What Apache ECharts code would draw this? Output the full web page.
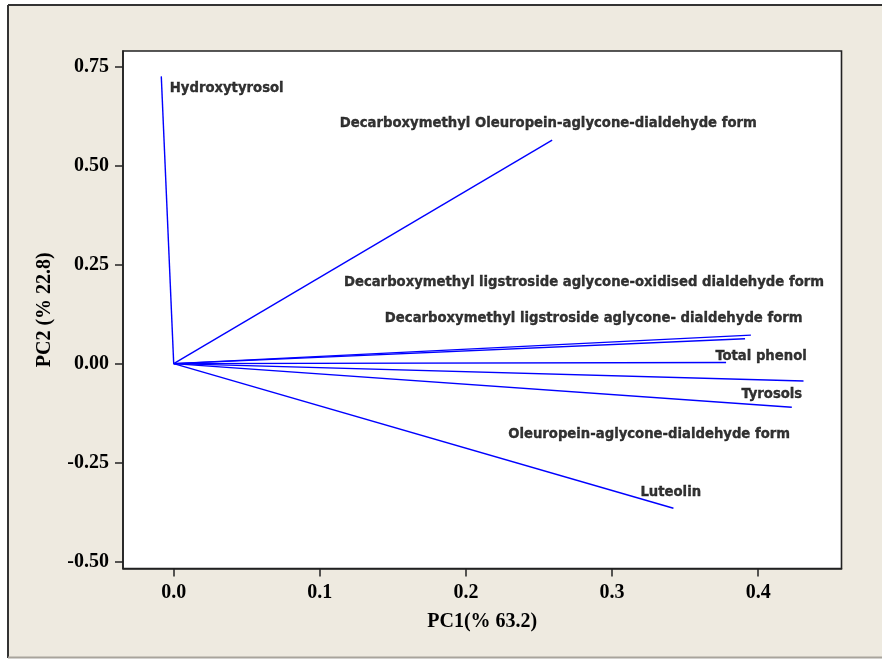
<!DOCTYPE html>
<html>
<head>
<meta charset="utf-8">
<script src="https://cdn.jsdelivr.net/npm/echarts@6/dist/echarts.min.js"></script>
<style>
html,body{margin:0;padding:0;background:#fff;}
#chart{width:882px;height:659px;}
</style>
</head>
<body>
<div id="chart"></div>
<script>
// Loading vectors (variables)
const variables = [
  'Hydroxytyrosol',
  'Decarboxymethyl Oleuropein-aglycone-dialdehyde form',
  'Decarboxymethyl ligstroside aglycone-oxidised dialdehyde form',
  'Decarboxymethyl ligstroside aglycone- dialdehyde form',
  'Total phenol',
  'Tyrosols',
  'Oleuropein-aglycone-dialdehyde form',
  'Luteolin'
];
const pc1 = [-0.0085, 0.259, 0.395, 0.391, 0.378, 0.431, 0.423, 0.342];
const pc2 = [0.725, 0.564, 0.072, 0.063, 0.003, -0.044, -0.110, -0.365];

// Where each variable's text label sits (data coordinates, left-middle anchor)
const labelPC1 = [-0.0027, 0.1137, 0.1165, 0.1445, 0.3707, 0.3885, 0.2289, 0.3194];
const labelPC2 = [0.695, 0.6076, 0.206, 0.1136, 0.0184, -0.0783, -0.1768, -0.3242];

const xTicks = [0.0, 0.1, 0.2, 0.3, 0.4];
const yTicks = [-0.50, -0.25, 0.00, 0.25, 0.50, 0.75];
const xTitle = 'PC1(% 63.2)';
const yTitle = 'PC2 (% 22.8)';

const chart = echarts.init(document.getElementById('chart'));

const serif = '"Liberation Serif", "Times New Roman", serif';
const sans = '"DejaVu Sans Condensed", "DejaVu Sans", sans-serif';

const vectorData = variables.map((n, i) => ({ name: n, coords: [[0, 0], [pc1[i], pc2[i]]] }));
const labelData = variables.map((n, i) => ({ name: n, value: [labelPC1[i], labelPC2[i]] }));

chart.setOption({
  backgroundColor: '#ffffff',
  animation: false,
  graphic: [
    { type: 'rect', z: -10, silent: true, shape: { x: 8, y: 5, width: 880, height: 652 },
      style: { fill: '#EEEAE0' } },
    { type: 'line', z: -5, silent: true, shape: { x1: 8, y1: 5, x2: 882, y2: 5 },
      style: { stroke: '#333', lineWidth: 2 } },
    { type: 'line', z: -5, silent: true, shape: { x1: 8, y1: 5, x2: 8, y2: 658 },
      style: { stroke: '#333', lineWidth: 2 } },
    { type: 'line', z: -5, silent: true, shape: { x1: 8, y1: 657.5, x2: 882, y2: 657.5 },
      style: { stroke: '#a8a49c', lineWidth: 2 } }
  ],
  grid: {
    left: 123, top: 51, right: 40.5, bottom: 90.5,
    show: true, backgroundColor: '#ffffff', borderColor: '#222', borderWidth: 1.6
  },
  xAxis: {
    type: 'value', min: -0.0347, max: 0.457,
    name: xTitle, nameLocation: 'middle', nameGap: 43,
    nameTextStyle: { fontFamily: serif, fontWeight: 'bold', fontSize: 20, color: '#000' },
    splitLine: { show: false },
    axisLine: { show: true, onZero: false, lineStyle: { color: '#222', width: 1.6 } },
    axisTick: { show: true, inside: false, length: 8, customValues: xTicks, lineStyle: { color: '#222', width: 1.5 } },
    axisLabel: { customValues: xTicks, margin: 14, fontFamily: serif, fontWeight: 'bold', fontSize: 20, color: '#000',
      formatter: v => v.toFixed(1) }
  },
  yAxis: {
    type: 'value', min: -0.517, max: 0.789,
    name: yTitle, nameLocation: 'middle', nameGap: 68, nameRotate: 90,
    nameTextStyle: { fontFamily: serif, fontWeight: 'bold', fontSize: 20, color: '#000' },
    splitLine: { show: false },
    axisLine: { show: true, onZero: false, lineStyle: { color: '#222', width: 1.6 } },
    axisTick: { show: true, inside: false, length: 8, customValues: yTicks, lineStyle: { color: '#222', width: 1.5 } },
    axisLabel: { customValues: yTicks, margin: 14, fontFamily: serif, fontWeight: 'bold', fontSize: 20, color: '#000',
      formatter: v => v.toFixed(2) }
  },
  series: [
    {
      type: 'lines', coordinateSystem: 'cartesian2d', silent: true,
      lineStyle: { color: '#0000FF', width: 1.4, opacity: 1 },
      data: vectorData
    },
    {
      type: 'scatter', symbolSize: 0, silent: true,
      label: {
        show: true, position: 'right', distance: 0, align: 'left', verticalAlign: 'middle',
        formatter: p => p.name,
        fontFamily: sans, fontWeight: 'bold', fontSize: 14.7, color: '#000',
        textBorderColor: '#000', textBorderWidth: 0.35
      },
      data: labelData
    }
  ]
});
</script>
</body>
</html>
